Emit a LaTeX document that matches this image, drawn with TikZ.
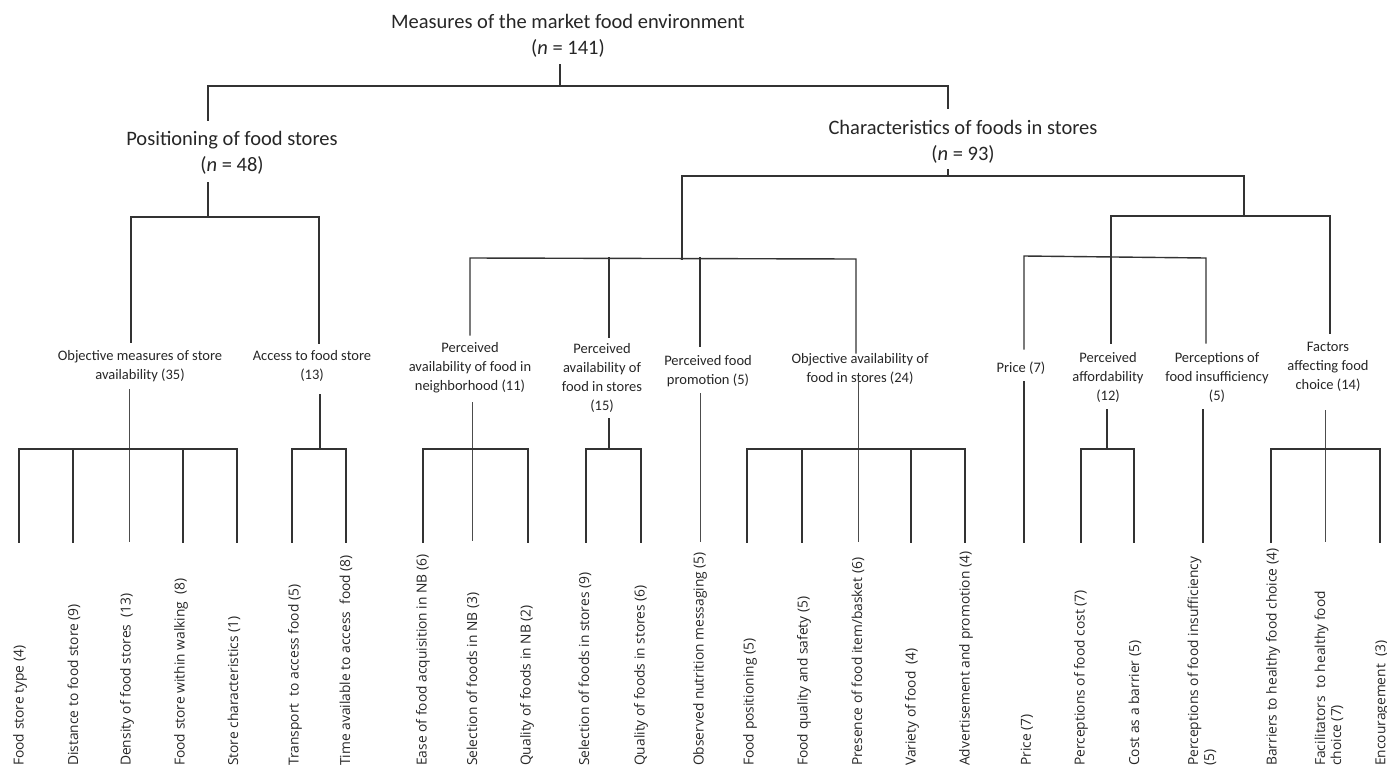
\documentclass[tikz,border=0pt]{standalone}
\usepackage{fontspec}
\setmainfont{Carlito}
\newfontfamily\leaffont{Open Sans}

\newlength{\du}
\setlength{\du}{1pt}

\tikzset{
  treeline/.style={line width=1.4\du, draw=black!80, line cap=rect},
  thinline/.style={line width=0.8\du, draw=black!70},
  topnode/.style={align=center, inner sep=0pt, text=black!85, font=\fontsize{20.5}{26}\selectfont},
  midnode/.style={align=center, inner sep=0pt, text=black!85, font=\fontsize{14.5}{19}\selectfont},
  leafnode/.style={rotate=90, anchor=west, align=left, inner sep=0pt, text=black!85, font=\leaffont\fontsize{13.8}{16}\selectfont},
}

\begin{document}
\begin{tikzpicture}
\pgftransformyscale{-1.000000}
\useasboundingbox (0\du,0\du) rectangle (1387\du,769\du);
% level 1 and 2
\node[topnode] (root) at (568\du,35.5\du){Measures of the market food environment\\(\textit{n} = 141)};
\node[topnode] (posit) at (232\du,152.5\du){Positioning of food stores\\(\textit{n} = 48)};
\node[topnode] (charac) at (963\du,141.5\du){Characteristics of foods in stores\\(\textit{n} = 93)};
% level 3
\node[midnode] (objm) at (140\du,366.5\du){Objective measures of store\\availability (35)};
\node[midnode] (access) at (312\du,365.5\du){Access to food store\\(13)};
\node[midnode] (percnb) at (470\du,368\du){Perceived\\availability of food in\\neighborhood (11)};
\node[midnode] (percst) at (602\du,378\du){Perceived\\availability of\\food in stores\\(15)};
\node[midnode] (percpr) at (708\du,371\du){Perceived food\\promotion (5)};
\node[midnode] (objav) at (860\du,369\du){Objective availability of\\food in stores (24)};
\node[midnode] (price) at (1021\du,368\du){Price (7)};
\node[midnode] (afford) at (1108\du,377\du){Perceived\\affordability\\(12)};
\node[midnode] (insuff) at (1217\du,377\du){Perceptions of\\food insufficiency\\(5)};
\node[midnode] (factor) at (1328\du,366.5\du){Factors\\affecting food\\choice (14)};
% level 4 (rotated)
\node[leafnode] (lfa) at (20\du,766\du){Food store type (4)};
\node[leafnode] (lfb) at (74\du,766\du){Distance to food store (9)};
\node[leafnode] (lfc) at (127\du,766\du){Density of food stores~ (13)};
\node[leafnode] (lfd) at (181\du,766\du){Food store within walking~ (8)};
\node[leafnode] (lfe) at (234\du,766\du){Store characteristics (1)};
\node[leafnode] (lff) at (295\du,766\du){Transport~ to access food (5)};
\node[leafnode] (lfg) at (346\du,766\du){Time available to access~ food (8)};
\node[leafnode] (lfh) at (423\du,766\du){Ease of food acquisition in NB (6)};
\node[leafnode] (lfi) at (473\du,766\du){Selection of foods in NB (3)};
\node[leafnode] (lfj) at (527\du,766\du){Quality of foods in NB (2)};
\node[leafnode] (lfk) at (585\du,766\du){Selection of foods in stores (9)};
\node[leafnode] (lfl) at (641\du,766\du){Quality of foods in stores (6)};
\node[leafnode] (lfm) at (700\du,766\du){Observed nutrition messaging (5)};
\node[leafnode] (lfn) at (750\du,766\du){Food positioning (5)};
\node[leafnode] (lfo) at (804\du,766\du){Food quality and safety (5)};
\node[leafnode] (lfp) at (858\du,766\du){Presence of food item/basket (6)};
\node[leafnode] (lfq) at (912\du,766\du){Variety of food~ (4)};
\node[leafnode] (lfr) at (966\du,766\du){Advertisement and promotion (4)};
\node[leafnode] (lfs) at (1027\du,766\du){Price (7)};
\node[leafnode] (lft) at (1081\du,766\du){Perceptions of food cost (7)};
\node[leafnode] (lfu) at (1135\du,766\du){Cost as a barrier (5)};
\node[leafnode] (lfv) at (1202\du,766\du){Perceptions of food insufficiency\\(5)};
\node[leafnode] (lfw) at (1273\du,766\du){Barriers to healthy food choice (4)};
\node[leafnode] (lfx) at (1329\du,766\du){Facilitators~ to healthy food\\choice (7)};
\node[leafnode] (lfy) at (1382\du,766\du){Encouragement~ (3)};
% root bracket
\draw[treeline] (560\du,65\du)--(560\du,86\du);
\draw[treeline] (208\du,120\du)--(208\du,86\du)--(948\du,86\du)--(948\du,108\du);
% positioning bracket
\draw[treeline] (208\du,183\du)--(208\du,217\du);
\draw[treeline] (131\du,342\du)--(131\du,217\du)--(319\du,217\du)--(319\du,343\du);
% characteristics bracket
\draw[treeline] (948\du,170\du)--(948\du,176\du);
\draw[treeline] (682\du,259\du)--(682\du,176\du)--(1244\du,176\du)--(1244\du,216\du);
\draw[treeline] (470\du,335\du)--(470\du,258\du)--(856\du,259\du)--(856\du,353\du);
\draw[treeline] (609\du,258\du)--(609\du,337\du);
\draw[treeline] (700\du,258\du)--(700\du,346\du);
\draw[treeline] (1111\du,343\du)--(1111\du,216\du)--(1330\du,216\du)--(1330\du,333\du);
\draw[treeline] (1024\du,349\du)--(1024\du,256\du)--(1206\du,258\du)--(1206\du,343\du);
% objective measures of store availability
\draw[thinline] (129\du,389\du)--(129\du,542\du);
\draw[treeline] (19\du,542\du)--(19\du,449\du)--(237\du,449\du)--(237\du,542\du);
\draw[treeline] (73\du,449\du)--(73\du,542\du);
\draw[treeline] (183\du,449\du)--(183\du,542\du);
% access to food store
\draw[treeline] (320\du,395\du)--(320\du,449\du);
\draw[treeline] (292\du,542\du)--(292\du,449\du)--(346\du,449\du)--(346\du,542\du);
% perceived availability in neighborhood
\draw[thinline] (472\du,402\du)--(472\du,541\du);
\draw[treeline] (423\du,542\du)--(423\du,449\du)--(528\du,449\du)--(528\du,542\du);
% perceived availability in stores
\draw[treeline] (609\du,419\du)--(609\du,449\du);
\draw[treeline] (586\du,542\du)--(586\du,449\du)--(641\du,449\du)--(641\du,542\du);
% perceived food promotion
\draw[thinline] (700\du,393\du)--(700\du,542\du);
% objective availability in stores
\draw[thinline] (858\du,380\du)--(858\du,542\du);
\draw[treeline] (747\du,542\du)--(747\du,449\du)--(965\du,449\du)--(965\du,542\du);
\draw[treeline] (802\du,449\du)--(802\du,542\du);
\draw[treeline] (911\du,449\du)--(911\du,542\du);
% price
\draw[treeline] (1024\du,382\du)--(1024\du,542\du);
% perceived affordability
\draw[treeline] (1107\du,410\du)--(1107\du,449\du);
\draw[treeline] (1081\du,542\du)--(1081\du,449\du)--(1134\du,449\du)--(1134\du,542\du);
% perceptions of food insufficiency
\draw[treeline] (1203\du,410\du)--(1203\du,542\du);
% factors affecting food choice
\draw[thinline] (1325\du,410\du)--(1325\du,542\du);
\draw[treeline] (1271\du,542\du)--(1271\du,449\du)--(1380\du,449\du)--(1380\du,542\du);
\end{tikzpicture}
\end{document}
